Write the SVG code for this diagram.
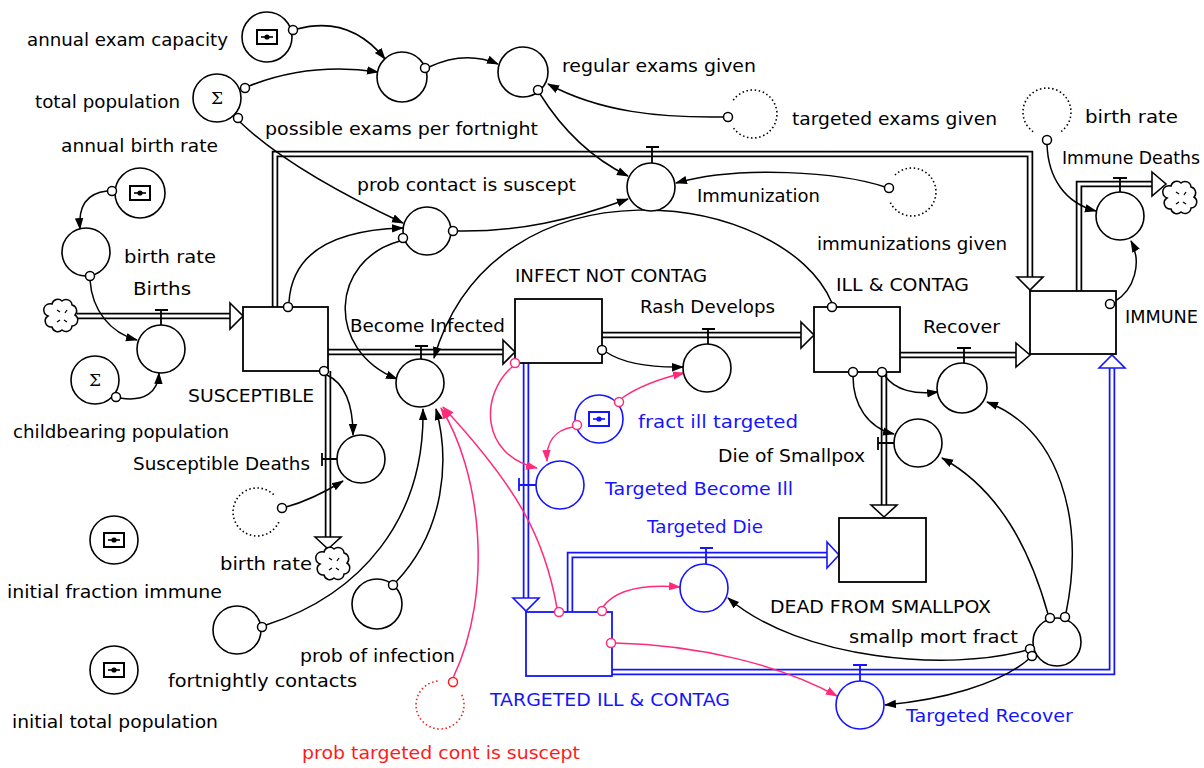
<svg xmlns="http://www.w3.org/2000/svg" width="1204" height="768" viewBox="0 0 1204 768">
<style>
.bg{fill:#fff}
.lbl{font-family:"DejaVu Sans","Liberation Sans",sans-serif;font-size:17px;fill:#000}
.blu{fill:#1414ff}
.red{fill:#ff1a1a}
.conv{fill:#fff;stroke:#000;stroke-width:1.6}
.convb{fill:#fff;stroke:#1414ff;stroke-width:1.6}
.stock{fill:#fff;stroke:#000;stroke-width:1.8}
.stockb{fill:#fff;stroke:#1414ff;stroke-width:1.8}
.po{fill:none;stroke:#000;stroke-width:6.5;stroke-linejoin:miter}
.pob{fill:none;stroke:#1414ff;stroke-width:6.5;stroke-linejoin:miter}
.pi{fill:none;stroke:#fff;stroke-width:3;stroke-linejoin:miter}
.parr{fill:#fff;stroke:#000;stroke-width:1.6;stroke-linejoin:miter}
.parrb{fill:#fff;stroke:#1414ff;stroke-width:1.6;stroke-linejoin:miter}
.valve{fill:none;stroke:#000;stroke-width:1.8}
.valveb{fill:none;stroke:#1414ff;stroke-width:1.8}
.lk{fill:none;stroke:#000;stroke-width:1.5}
.lkp{fill:none;stroke:#ff2a7a;stroke-width:1.5}
.dot{fill:#fff;stroke:#000;stroke-width:1.5}
.dotp{fill:#fff;stroke:#ff2a7a;stroke-width:1.5}
.ghost{fill:none;stroke:#000;stroke-width:1.6;stroke-dasharray:1.5 2.6}
.ghostr{fill:none;stroke:#ff1a1a;stroke-width:1.6;stroke-dasharray:1.5 2.6}
.sig{font-family:"DejaVu Serif","Liberation Serif",serif;font-size:17px;fill:#000}
.cloud{fill:#fff;stroke:#000;stroke-width:1.5}
</style>
<defs>
<marker id="ah" viewBox="0 0 12 10" refX="11" refY="5" markerWidth="12" markerHeight="10" markerUnits="userSpaceOnUse" orient="auto"><path d="M0,0.8 L12,5 L0,9.2 z" fill="#000"/></marker>
<marker id="ahp" viewBox="0 0 12 10" refX="11" refY="5" markerWidth="12" markerHeight="10" markerUnits="userSpaceOnUse" orient="auto"><path d="M0,0.8 L12,5 L0,9.2 z" fill="#ff2a7a"/></marker>
<g id="inp"><rect x="-10" y="-7" width="20" height="14" fill="none" stroke="currentColor" stroke-width="2"/><line x1="-6" y1="0" x2="6" y2="0" stroke="currentColor" stroke-width="1.6"/><circle r="2.6" fill="currentColor"/></g>
<g id="cld"><path class="cloud" d="M-10,-12 a6,6 0 0 1 10,-3 a6,6 0 0 1 10,4 a6,6 0 0 1 3,10 a6,6 0 0 1 -3,11 a6,6 0 0 1 -10,4 a6,6 0 0 1 -10,-3 a6,6 0 0 1 -4,-11 a6,6 0 0 1 4,-12 z"/><path d="M-5,-6 l3,2 M5,-6 l-2,3 M-5,6 l3,-2 M5,6 l-3,-2" fill="none" stroke="#000" stroke-width="1.3"/></g>
</defs>
<rect class="bg" x="0" y="0" width="1204" height="768"/>

<g id="pipes">
<path class="po" d="M77,316 H231"/><path class="pi" d="M77,316 H231"/>
<polygon class="parr" points="230,303 243,316 230,329"/>
<path class="po" d="M275,307 V154 H1030 V278"/><path class="pi" d="M275,307 V154 H1030 V278"/>
<polygon class="parr" points="1017,277 1030,290 1043,277"/>
<path class="po" d="M328,352 H504"/><path class="pi" d="M328,352 H504"/>
<polygon class="parr" points="503,340 515,352 503,364"/>
<path class="po" d="M328,371 V538"/><path class="pi" d="M328,371 V538"/>
<polygon class="parr" points="315,537 328,549 341,537"/>
<path class="po" d="M602,335 H802"/><path class="pi" d="M602,335 H802"/>
<polygon class="parr" points="801,322 814,335 801,348"/>
<path class="po" d="M900,355 H1017"/><path class="pi" d="M900,355 H1017"/>
<polygon class="parr" points="1016,343 1030,355 1016,367"/>
<path class="po" d="M884,372 V506"/><path class="pi" d="M884,372 V506"/>
<polygon class="parr" points="871,505 884,517 897,505"/>
<path class="po" d="M1079,291 V184 H1153"/><path class="pi" d="M1079,291 V184 H1153"/>
<polygon class="parr" points="1152,172 1166,184 1152,196"/>
<path class="pob" d="M526,363 V599"/><path class="pi" d="M526,363 V599"/>
<polygon class="parrb" points="513,598 526,611 539,598"/>
<path class="pob" d="M570,612 V555 H828"/><path class="pi" d="M570,612 V555 H828"/>
<polygon class="parrb" points="827,542 839,555 827,568"/>
<path class="pob" d="M612,672 H1112 V367"/><path class="pi" d="M612,672 H1112 V367"/>
<polygon class="parrb" points="1099,368 1112,355 1125,368"/>
<use href="#cld" x="62" y="316"/>
<use href="#cld" x="334" y="564"/>
<use href="#cld" x="1181" y="198"/>
</g>

<g id="connectors">
<path class="lk" marker-end="url(#ah)" d="M297,29 Q350,15 385,59"/>
<path class="lk" marker-end="url(#ah)" d="M249,86 Q310,62 378,72"/>
<path class="lk" marker-end="url(#ah)" d="M429,67 Q465,50 498,64"/>
<path class="lk" marker-end="url(#ah)" d="M724,117 C660,118 600,112 548,84"/>
<path class="lk" marker-end="url(#ah)" d="M540,94 Q575,150 628,176"/>
<path class="lk" marker-end="url(#ah)" d="M240,122 Q290,170 403,223"/>
<path class="lk" marker-end="url(#ah)" d="M289,302 C292,255 330,230 403,228"/>
<path class="lk" marker-end="url(#ah)" d="M400,241 C330,260 325,350 397,379"/>
<path class="lk" marker-end="url(#ah)" d="M457,231 C520,232 570,220 628,199"/>
<path class="lk" marker-end="url(#ah)" d="M832,303 C785,190 495,150 434,358"/>
<path class="lk" marker-end="url(#ah)" d="M266,625 C360,595 425,520 423,409"/>
<path class="lk" marker-end="url(#ah)" d="M396,582 C445,530 450,460 436,409"/>
<path class="lkp" marker-end="url(#ahp)" d="M453,678 C495,590 480,470 441,408"/>
<path class="lkp" marker-end="url(#ahp)" d="M557,608 C545,540 520,490 443,407"/>
<path class="lkp" marker-end="url(#ahp)" d="M512,367 C480,395 480,455 537,468"/>
<path class="lk" marker-end="url(#ah)" d="M606,352 Q630,368 683,367"/>
<path class="lkp" marker-end="url(#ahp)" d="M622,398 Q645,382 684,373"/>
<path class="lkp" marker-end="url(#ahp)" d="M573,427 C555,430 546,442 547,461"/>
<path class="lk" marker-end="url(#ah)" d="M327,375 C348,385 353,410 353,435"/>
<path class="lk" marker-end="url(#ah)" d="M286,507 Q312,500 343,481"/>
<path class="lk" marker-end="url(#ah)" d="M90,280 C92,310 110,333 137,340"/>
<path class="lk" marker-end="url(#ah)" d="M120,398 C145,402 158,392 159,373"/>
<path class="lk" marker-end="url(#ah)" d="M107,191 C88,193 78,205 80,229"/>
<path class="lk" marker-end="url(#ah)" d="M853,376 C853,405 868,428 894,434"/>
<path class="lk" marker-end="url(#ah)" d="M885,376 C895,390 915,395 938,392"/>
<path class="lk" marker-end="url(#ah)" d="M1048,614 C1030,550 1000,490 942,458"/>
<path class="lk" marker-end="url(#ah)" d="M1066,613 C1085,520 1060,430 987,402"/>
<path class="lk" marker-end="url(#ah)" d="M1027,650 C950,672 800,660 728,598"/>
<path class="lk" marker-end="url(#ah)" d="M1030,658 C1000,685 940,700 885,705"/>
<path class="lkp" marker-end="url(#ahp)" d="M603,607 C615,590 640,584 680,587"/>
<path class="lkp" marker-end="url(#ahp)" d="M615,643 C700,645 780,665 837,696"/>
<path class="lk" marker-end="url(#ah)" d="M1114,302 C1135,290 1142,262 1131,241"/>
<path class="lk" marker-end="url(#ah)" d="M1047,144 C1048,178 1065,203 1096,211"/>
<path class="lk" marker-end="url(#ah)" d="M885,187 C840,172 740,165 676,183"/>
</g>

<g id="valves">
<path class="valve" d="M155,310 H168 M161,310 V325"/>
<path class="valve" d="M415,346 H428 M421,346 V359"/>
<path class="valve" d="M646,147 H659 M652,147 V163"/>
<path class="valve" d="M322,453 V466 M322,459 H337"/>
<path class="valve" d="M702,329 H715 M708,329 V344"/>
<path class="valve" d="M957,348 H971 M964,348 V363"/>
<path class="valve" d="M878,437 V450 M878,443 H894"/>
<path class="valve" d="M1113,178 H1127 M1120,178 V192"/>
<path class="valveb" d="M519,478 V491 M519,485 H536"/>
<path class="valveb" d="M700,548 H713 M706,548 V564"/>
<path class="valveb" d="M853,665 H867 M860,665 V681"/>
</g>

<g id="SUSCEPTIBLE"><rect class="stock" x="243" y="307" width="85" height="64"/><text class="lbl" x="188" y="402" textLength="126" lengthAdjust="spacingAndGlyphs">SUSCEPTIBLE</text></g>
<g id="INFECT_NOT_CONTAG"><rect class="stock" x="515" y="299" width="87" height="64"/><text class="lbl" x="515" y="282" textLength="192" lengthAdjust="spacingAndGlyphs">INFECT NOT CONTAG</text></g>
<g id="ILL_CONTAG"><rect class="stock" x="814" y="307" width="86" height="65"/><text class="lbl" x="836" y="291" textLength="133" lengthAdjust="spacingAndGlyphs">ILL &amp; CONTAG</text></g>
<g id="IMMUNE"><rect class="stock" x="1030" y="291" width="86" height="63"/><text class="lbl" x="1125" y="323" textLength="73" lengthAdjust="spacingAndGlyphs">IMMUNE</text></g>
<g id="DEAD"><rect class="stock" x="839" y="518" width="87" height="64"/><text class="lbl" x="770" y="613" textLength="221" lengthAdjust="spacingAndGlyphs">DEAD FROM SMALLPOX</text></g>
<g id="TARGETED_ILL"><rect class="stockb" x="526" y="612" width="86" height="64"/><text class="lbl blu" x="490" y="706" textLength="240" lengthAdjust="spacingAndGlyphs">TARGETED ILL &amp; CONTAG</text></g>

<g id="annual_exam_capacity"><circle class="conv" cx="267" cy="37" r="25"/><use href="#inp" x="267" y="37" color="#000"/><text class="lbl" x="27" y="46" textLength="201" lengthAdjust="spacingAndGlyphs">annual exam capacity</text></g>
<g id="total_population"><circle class="conv" cx="217" cy="98" r="24"/><text class="sig" x="217" y="104" text-anchor="middle">Σ</text><text class="lbl" x="35" y="108" textLength="145" lengthAdjust="spacingAndGlyphs">total population</text></g>
<g id="possible_exams"><circle class="conv" cx="402" cy="77" r="25"/><text class="lbl" x="265" y="135" textLength="273" lengthAdjust="spacingAndGlyphs">possible exams per fortnight</text></g>
<g id="regular_exams"><circle class="conv" cx="523" cy="72" r="25"/><text class="lbl" x="562" y="72" textLength="194" lengthAdjust="spacingAndGlyphs">regular exams given</text></g>
<g id="targeted_exams_ghost"><path class="ghost" d="M733.3,100.2 A24,24 0 1 1 733.3,127.8"/><text class="lbl" x="792" y="125" textLength="205" lengthAdjust="spacingAndGlyphs">targeted exams given</text></g>
<g id="Immunization"><circle class="conv" cx="651" cy="187" r="24"/><text class="lbl" x="697" y="202" textLength="123" lengthAdjust="spacingAndGlyphs">Immunization</text></g>
<g id="immunizations_given_ghost"><path class="ghost" d="M895,175 A24,24 0 1 1 890.2,202.1"/><text class="lbl" x="817" y="250" textLength="190" lengthAdjust="spacingAndGlyphs">immunizations given</text></g>
<g id="birth_rate_ghost_tr"><path class="ghost" d="M1033.2,131.7 A24,24 0 1 1 1060.8,131.7"/><text class="lbl" x="1085" y="123" textLength="93" lengthAdjust="spacingAndGlyphs">birth rate</text></g>
<g id="Immune_Deaths"><circle class="conv" cx="1120" cy="216" r="24"/><text class="lbl" x="1062" y="164" textLength="138" lengthAdjust="spacingAndGlyphs">Immune Deaths</text></g>
<g id="prob_contact"><circle class="conv" cx="427" cy="231" r="24"/><text class="lbl" x="357" y="191" textLength="219" lengthAdjust="spacingAndGlyphs">prob contact is suscept</text></g>
<g id="annual_birth_rate"><circle class="conv" cx="140" cy="193" r="25"/><use href="#inp" x="140" y="193" color="#000"/><text class="lbl" x="61" y="152" textLength="157" lengthAdjust="spacingAndGlyphs">annual birth rate</text></g>
<g id="birth_rate"><circle class="conv" cx="86" cy="252" r="24"/><text class="lbl" x="124" y="263" textLength="92" lengthAdjust="spacingAndGlyphs">birth rate</text></g>
<g id="Births"><circle class="conv" cx="161" cy="349" r="24"/><text class="lbl" x="133" y="295" textLength="58" lengthAdjust="spacingAndGlyphs">Births</text></g>
<g id="childbearing_population"><circle class="conv" cx="95" cy="380" r="24"/><text class="sig" x="95" y="386" text-anchor="middle">Σ</text><text class="lbl" x="13" y="438" textLength="216" lengthAdjust="spacingAndGlyphs">childbearing population</text></g>
<g id="Become_Infected"><circle class="conv" cx="420" cy="383" r="24"/><text class="lbl" x="350" y="332" textLength="155" lengthAdjust="spacingAndGlyphs">Become Infected</text></g>
<g id="Susceptible_Deaths"><circle class="conv" cx="361" cy="459" r="24"/><text class="lbl" x="133" y="470" textLength="177" lengthAdjust="spacingAndGlyphs">Susceptible Deaths</text></g>
<g id="birth_rate_ghost_sd"><path class="ghost" d="M278.8,522.1 A24,24 0 1 1 274,495"/><text class="lbl" x="220" y="570" textLength="92" lengthAdjust="spacingAndGlyphs">birth rate</text></g>
<g id="initial_fraction_immune"><circle class="conv" cx="114" cy="540" r="24"/><use href="#inp" x="114" y="540" color="#000"/><text class="lbl" x="7" y="598" textLength="215" lengthAdjust="spacingAndGlyphs">initial fraction immune</text></g>
<g id="initial_total_population"><circle class="conv" cx="114" cy="670" r="24"/><use href="#inp" x="114" y="670" color="#000"/><text class="lbl" x="12" y="728" textLength="206" lengthAdjust="spacingAndGlyphs">initial total population</text></g>
<g id="fortnightly_contacts"><circle class="conv" cx="237" cy="630" r="24"/><text class="lbl" x="168" y="687" textLength="189" lengthAdjust="spacingAndGlyphs">fortnightly contacts</text></g>
<g id="prob_of_infection"><circle class="conv" cx="377" cy="604" r="25"/><text class="lbl" x="300" y="662" textLength="155" lengthAdjust="spacingAndGlyphs">prob of infection</text></g>
<g id="prob_targeted_ghost"><path class="ghostr" d="M461.8,694.9 A24,24 0 1 1 437.9,681.1"/><text class="lbl red" x="302" y="759" textLength="278" lengthAdjust="spacingAndGlyphs">prob targeted cont is suscept</text></g>
<g id="Rash_Develops"><circle class="conv" cx="707" cy="368" r="24"/><text class="lbl" x="640" y="313" textLength="135" lengthAdjust="spacingAndGlyphs">Rash Develops</text></g>
<g id="fract_ill_targeted"><circle class="convb" cx="599" cy="419" r="24"/><use href="#inp" x="599" y="419" color="#1414ff"/><text class="lbl blu" x="638" y="428" textLength="160" lengthAdjust="spacingAndGlyphs">fract ill targeted</text></g>
<g id="Targeted_Become_Ill"><circle class="convb" cx="560" cy="485" r="24"/><text class="lbl blu" x="605" y="495" textLength="188" lengthAdjust="spacingAndGlyphs">Targeted Become Ill</text></g>
<g id="Recover"><circle class="conv" cx="962" cy="388" r="25"/><text class="lbl" x="923" y="333" textLength="77" lengthAdjust="spacingAndGlyphs">Recover</text></g>
<g id="Die_of_Smallpox"><circle class="conv" cx="918" cy="443" r="24"/><text class="lbl" x="718" y="462" textLength="147" lengthAdjust="spacingAndGlyphs">Die of Smallpox</text></g>
<g id="smallp_mort_fract"><circle class="conv" cx="1057" cy="642" r="24"/><text class="lbl" x="849" y="643" textLength="169" lengthAdjust="spacingAndGlyphs">smallp mort fract</text></g>
<g id="Targeted_Die"><circle class="convb" cx="704" cy="588" r="24"/><text class="lbl blu" x="647" y="533" textLength="116" lengthAdjust="spacingAndGlyphs">Targeted Die</text></g>
<g id="Targeted_Recover"><circle class="convb" cx="860" cy="705" r="24"/><text class="lbl blu" x="906" y="722" textLength="167" lengthAdjust="spacingAndGlyphs">Targeted Recover</text></g>

<g id="link_dots">
<circle class="dot" cx="293" cy="30" r="4.5"/>
<circle class="dot" cx="245" cy="88" r="4.5"/>
<circle class="dot" cx="238" cy="118" r="4.5"/>
<circle class="dot" cx="425" cy="68" r="4.5"/>
<circle class="dot" cx="538" cy="90" r="4.5"/>
<circle class="dot" cx="728" cy="117" r="4.5"/>
<circle class="dot" cx="889" cy="188" r="4.5"/>
<circle class="dot" cx="1047" cy="140" r="4.5"/>
<circle class="dot" cx="403" cy="238" r="4.5"/>
<circle class="dot" cx="453" cy="231" r="4.5"/>
<circle class="dot" cx="288" cy="307" r="4.5"/>
<circle class="dot" cx="324" cy="371" r="4.5"/>
<circle class="dot" cx="832" cy="307" r="4.5"/>
<circle class="dot" cx="112" cy="191" r="4.5"/>
<circle class="dot" cx="90" cy="276" r="4.5"/>
<circle class="dot" cx="116" cy="397" r="4.5"/>
<circle class="dot" cx="282" cy="508" r="4.5"/>
<circle class="dot" cx="262" cy="627" r="4.5"/>
<circle class="dot" cx="393" cy="585" r="4.5"/>
<circle class="dot" cx="602" cy="350" r="4.5"/>
<circle class="dot" cx="853" cy="372" r="4.5"/>
<circle class="dot" cx="882" cy="372" r="4.5"/>
<circle class="dot" cx="1050" cy="618" r="4.5"/>
<circle class="dot" cx="1065" cy="617" r="4.5"/>
<circle class="dot" cx="1030" cy="649" r="4.5"/>
<circle class="dot" cx="1032" cy="656" r="4.5"/>
<circle class="dot" cx="1110" cy="304" r="4.5"/>
<circle class="dotp" cx="515" cy="363" r="4.5"/>
<circle class="dotp" cx="559" cy="612" r="4.5"/>
<circle class="dotp" cx="602" cy="611" r="4.5"/>
<circle class="dotp" cx="611" cy="643" r="4.5"/>
<circle class="dotp" cx="577" cy="425" r="4.5"/>
<circle class="dotp" cx="619" cy="402" r="4.5"/>
<circle class="dotp" cx="453" cy="682" r="4.5" style="stroke:#ff1a1a"/>
</g>
</svg>
